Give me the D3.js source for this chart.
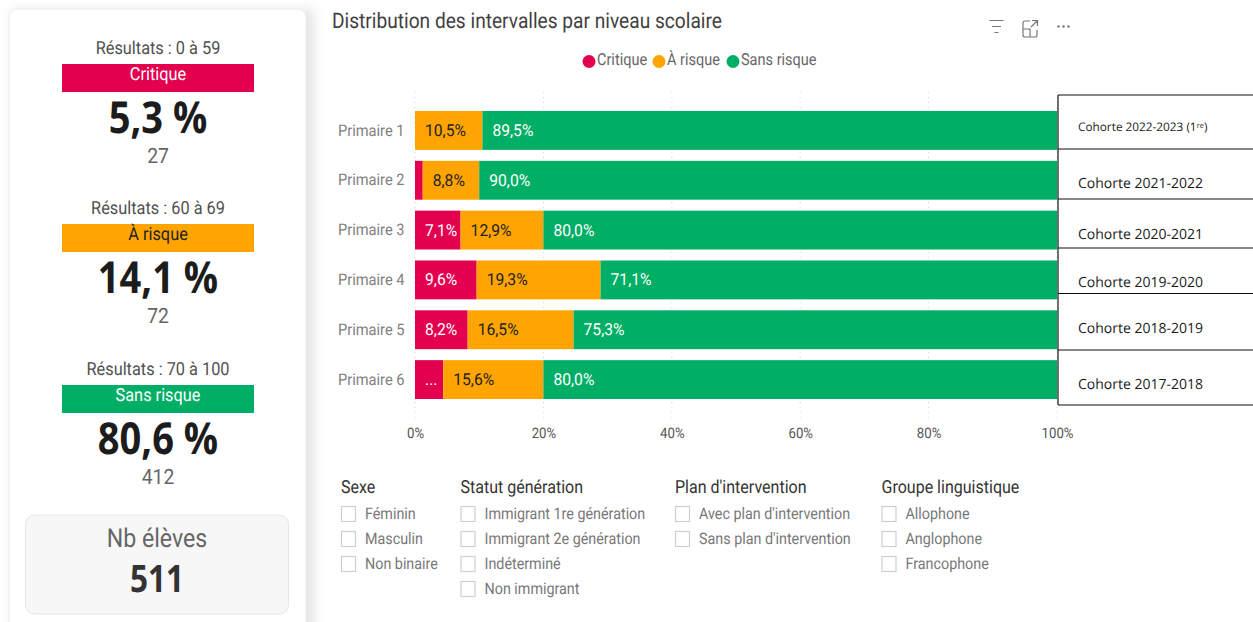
<!DOCTYPE html>
<html lang="fr">
<head>
  <meta charset="UTF-8">
  <title>Distribution des intervalles</title>
  <style>
    html, body { margin: 0; padding: 0; background: #fff; overflow: hidden; }
    svg { display: block; }
    text { font-family: Roboto, sans-serif; text-rendering: geometricPrecision; }
    .axis path, .axis line { display: none; }
  </style>
</head>
<body>
  <script src="https://d3js.org/d3.v7.min.js"></script>
  <script>
    // Chart values
    let levels = ["Primaire 1", "Primaire 2", "Primaire 3", "Primaire 4", "Primaire 5", "Primaire 6"];
    let critique = [0, 1.2, 7.1, 9.6, 8.2, 4.4];
    let aRisque = [10.5, 8.8, 12.9, 19.3, 16.5, 15.6];
    let sansRisque = [89.5, 90.0, 80.0, 71.1, 75.3, 80.0];
    let critiqueLabels = ["", "", "7,1%", "9,6%", "8,2%", "..."];
    let aRisqueLabels = ["10,5%", "8,8%", "12,9%", "19,3%", "16,5%", "15,6%"];
    let sansRisqueLabels = ["89,5%", "90,0%", "80,0%", "71,1%", "75,3%", "80,0%"];
    let xTicks = [0, 20, 40, 60, 80, 100];
    let cohorts = ["Cohorte 2022-2023 (1", "Cohorte 2021-2022", "Cohorte 2020-2021", "Cohorte 2019-2020", "Cohorte 2018-2019", "Cohorte 2017-2018"];

    // Left cards
    let kpiRanges = ["Résultats : 0 à 59", "Résultats : 60 à 69", "Résultats : 70 à 100"];
    let kpiNames = ["Critique", "À risque", "Sans risque"];
    let kpiPercents = ["5,3 %", "14,1 %", "80,6 %"];
    let kpiCounts = ["27", "72", "412"];

    // Filters
    let filterTitles = ["Sexe", "Statut génération", "Plan d'intervention", "Groupe linguistique"];
    let filterItems = [
      ["Féminin", "Masculin", "Non binaire"],
      ["Immigrant 1re génération", "Immigrant 2e génération", "Indéterminé", "Non immigrant"],
      ["Avec plan d'intervention", "Sans plan d'intervention"],
      ["Allophone", "Anglophone", "Francophone"]
    ];

    let colors = ["#e2004f", "#ffa400", "#00ae66"];
    let labelColors = ["#fff", "#222", "#fff"];

    let svg = d3.select("body").append("svg")
      .attr("width", 1253)
      .attr("height", 622);

    // The reference text is narrower than the installed fonts, squeeze it
    function squeeze(sel, ratio) {
      sel.each(function() {
        let len = this.getComputedTextLength();
        if (len > 0) {
          d3.select(this)
            .attr("textLength", len * ratio)
            .attr("lengthAdjust", "spacingAndGlyphs");
        }
      });
      return sel;
    }

    let defs = svg.append("defs");
    let blur = defs.append("filter").attr("id", "shadow")
      .attr("x", "-10%").attr("y", "-10%").attr("width", "125%").attr("height", "120%");
    blur.append("feGaussianBlur").attr("stdDeviation", 6);

    // Left panel
    svg.append("rect")
      .attr("x", 12).attr("y", 9).attr("width", 302).attr("height", 640)
      .attr("fill", "#000").attr("opacity", 0.1)
      .attr("filter", "url(#shadow)");
    svg.append("rect")
      .attr("x", 9).attr("y", 9).attr("width", 297).attr("height", 640).attr("rx", 8)
      .attr("fill", "#fff").attr("stroke", "#eeeeee");

    let kpiTop = [54, 214, 375];
    kpiNames.forEach((name, i) => {
      let g = svg.append("g").attr("transform", `translate(158, ${kpiTop[i]})`);
      squeeze(g.append("text").attr("y", 0).attr("text-anchor", "middle")
        .attr("font-size", 18).attr("fill", "#505050").text(kpiRanges[i]), 0.907);
      g.append("rect").attr("x", -96).attr("y", 10).attr("width", 192).attr("height", 28)
        .attr("fill", colors[i]);
      squeeze(g.append("text").attr("y", 26).attr("text-anchor", "middle")
        .attr("font-size", 18).attr("fill", i === 1 ? "#222" : "#fff").text(name), 0.907);
      squeeze(g.append("text").attr("y", 79).attr("text-anchor", "middle")
        .style("font-family", "'Open Sans'").style("font-weight", 700)
        .attr("font-size", 44).attr("fill", "#1c1c1c").text(kpiPercents[i]), 0.865);
      squeeze(g.append("text").attr("y", 109).attr("text-anchor", "middle")
        .attr("font-size", 21).attr("fill", "#666").text(kpiCounts[i]), 0.92);
    });

    // Nb eleves card
    svg.append("rect")
      .attr("x", 25.5).attr("y", 515).attr("width", 263).attr("height", 99).attr("rx", 9)
      .attr("fill", "#f7f7f7").attr("stroke", "#e6e6e6");
    squeeze(svg.append("text").attr("x", 157).attr("y", 547).attr("text-anchor", "middle")
      .attr("font-size", 26).attr("fill", "#666").text("Nb élèves"), 0.89);
    squeeze(svg.append("text").attr("x", 157).attr("y", 592).attr("text-anchor", "middle")
      .style("font-family", "'Open Sans'").style("font-weight", 700)
      .attr("font-size", 38).attr("fill", "#333").text("511"), 0.83);

    // Title
    squeeze(svg.append("text").attr("x", 332).attr("y", 28)
      .attr("font-size", 21.5).attr("fill", "#3f3f3f")
      .text("Distribution des intervalles par niveau scolaire"), 0.89);

    // Legend
    let legendX = [589, 659, 733];
    kpiNames.forEach((name, i) => {
      svg.append("circle").attr("cx", legendX[i]).attr("cy", 61.5).attr("r", 6.5).attr("fill", colors[i]);
      squeeze(svg.append("text").attr("x", legendX[i] + 8).attr("y", 65)
        .attr("font-size", 16.5).attr("fill", "#666").text(name), 0.88);
    });

    // Scales
    let x = d3.scaleLinear().domain([0, 100]).range([415, 1057]);
    let y = d3.scaleBand().domain(levels).range([105.5, 404.5]).paddingInner(0.22).paddingOuter(0.11);

    // Dotted gridlines
    svg.append("g").selectAll("line")
      .data(xTicks)
      .enter()
      .append("line")
      .attr("x1", d => x(d)).attr("x2", d => x(d))
      .attr("y1", 92).attr("y2", 422)
      .attr("stroke", "#d4d4d4")
      .attr("stroke-dasharray", "1 4");

    // Stacked bars
    let rows = levels.map((level, i) => ({ level, c: critique[i], r: aRisque[i], s: sansRisque[i], i }));
    let stack = d3.stack().keys(["c", "r", "s"]);
    let labels = [critiqueLabels, aRisqueLabels, sansRisqueLabels];

    svg.append("g").selectAll("g")
      .data(stack(rows))
      .enter()
      .append("g")
      .attr("fill", (d, i) => colors[i])
      .each(function(series, k) {
        let group = d3.select(this);
        group.selectAll("rect")
          .data(series)
          .enter()
          .append("rect")
          .attr("x", d => x(d[0]))
          .attr("y", d => y(d.data.level))
          .attr("width", d => x(d[1]) - x(d[0]))
          .attr("height", y.bandwidth());
        let valueText = group.selectAll("text")
          .data(series)
          .enter()
          .append("text")
          .attr("x", d => x(d[0]) + 10)
          .attr("y", d => y(d.data.level) + y.bandwidth() / 2 + 5.5)
          .attr("font-size", 16.5)
          .attr("fill", labelColors[k])
          .text(d => labels[k][d.data.i]);
        squeeze(valueText, 0.95);
      });

    // Axes
    let yAxis = svg.append("g").attr("class", "axis")
      .attr("transform", "translate(414.5, 0)")
      .call(d3.axisLeft(y).tickSize(0).tickPadding(10));
    squeeze(yAxis.selectAll("text").attr("font-size", 16).attr("fill", "#808080").style("font-family", "Roboto"), 0.914);

    let xAxis = svg.append("g").attr("class", "axis")
      .attr("transform", "translate(0, 422)")
      .call(d3.axisBottom(x).tickValues(xTicks).tickFormat(d => d + "%").tickSize(0).tickPadding(6));
    squeeze(xAxis.selectAll("text").attr("font-size", 14.5).attr("fill", "#555").style("font-family", "Roboto"), 0.91);

    // Cohort table pasted over the chart
    let cohortLines = [95, 149, 199, 248, 293.5, 350, 405];
    let cohortBase = [131, 188, 239, 287, 333, 389];
    svg.append("g").selectAll("line")
      .data(cohortLines)
      .enter()
      .append("line")
      .attr("x1", 1058).attr("x2", 1253)
      .attr("y1", d => d).attr("y2", d => d)
      .attr("stroke", "#111").attr("stroke-width", 1.2);
    svg.append("line")
      .attr("x1", 1058).attr("x2", 1058).attr("y1", 95).attr("y2", 405)
      .attr("stroke", "#111").attr("stroke-width", 1.2);
    cohorts.forEach((c, i) => {
      let t = svg.append("text").attr("x", 1078).attr("y", cohortBase[i])
        .style("font-family", "'Open Sans'")
        .attr("font-size", i === 0 ? 11.8 : 14).attr("fill", "#1a1a1a").text(c);
      if (i === 0) {
        t.append("tspan").attr("dy", -3).attr("font-size", 7.5).text("re");
        t.append("tspan").attr("dy", 3).text(")");
      }
    });

    // Toolbar icons
    let icons = svg.append("g").attr("fill", "none").attr("stroke", "#777").attr("stroke-width", 1.2);
    icons.append("path").attr("d", "M989.5 20.5H1003.5M992 26.5H1001M994.5 32.5H998.5");
    icons.append("path").attr("d", "M1030 21H1025Q1023 21 1023 23V35Q1023 37 1025 37H1035Q1037 37 1037 35V30M1023 29H1030V37M1032 20.5H1037.5V26M1037.5 20.5L1031 27");
    svg.append("g").attr("fill", "#777").selectAll("circle")
      .data([1058.5, 1063.5, 1068.5])
      .enter()
      .append("circle")
      .attr("cx", d => d).attr("cy", 26.5).attr("r", 1.2);

    // Filters
    let filterX = [341, 460.5, 675, 881.5];
    let rowY = [514, 539, 564, 589];
    filterTitles.forEach((title, i) => {
      squeeze(svg.append("text").attr("x", filterX[i]).attr("y", 492.5)
        .attr("font-size", 18).attr("fill", "#333").text(title), 0.89);
      filterItems[i].forEach((item, j) => {
        svg.append("rect")
          .attr("x", filterX[i] + 0.5).attr("y", rowY[j] - 7.5)
          .attr("width", 14).attr("height", 15)
          .attr("fill", "#fff").attr("stroke", "#cfcfcf").attr("stroke-width", 1.2);
        squeeze(svg.append("text").attr("x", filterX[i] + 24).attr("y", rowY[j] + 5)
          .attr("font-size", 16).attr("fill", "#777").text(item), 0.895);
      });
    });
  </script>
</body>
</html>
